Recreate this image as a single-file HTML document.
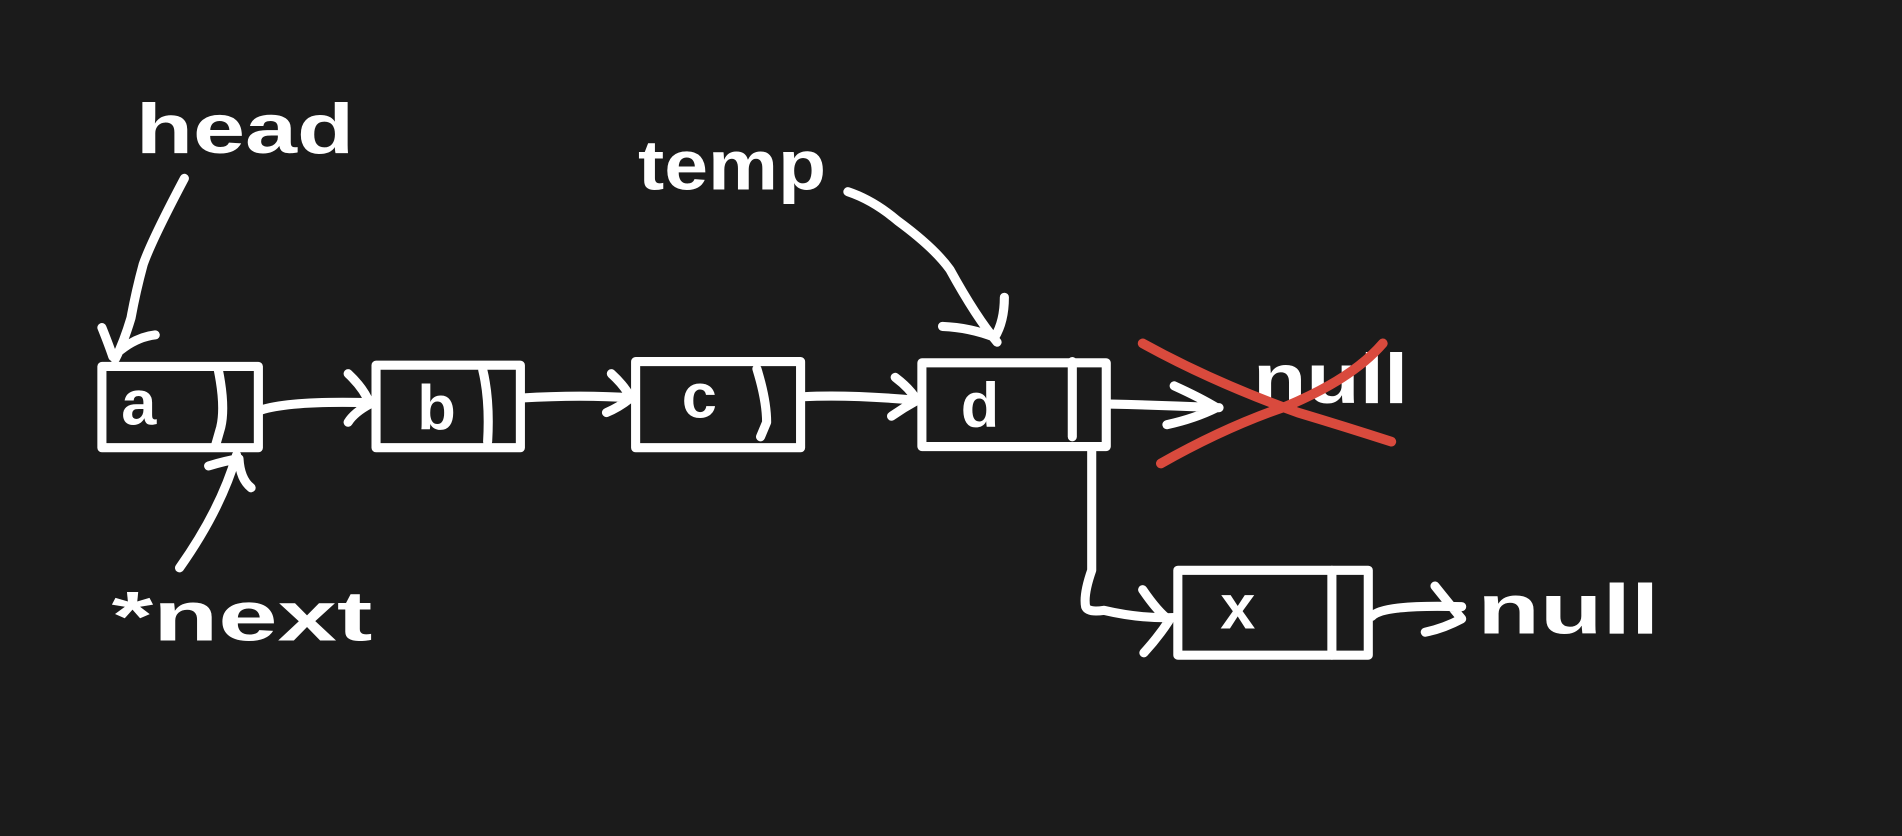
<!DOCTYPE html>
<html><head><meta charset="utf-8"><style>
html,body{margin:0;padding:0;background:#1b1b1b;width:1902px;height:836px;overflow:hidden}
svg{display:block}
text{font-family:"Liberation Sans",sans-serif;font-weight:bold;fill:#fff}
</style></head><body>
<svg width="1902" height="836" viewBox="0 0 1568 689" preserveAspectRatio="none">
<rect width="1568" height="689" fill="#1b1b1b"/>
<g fill="none" stroke="#fff" stroke-width="7.5" stroke-linecap="round" stroke-linejoin="round">
  <g><rect x="84" y="302" width="129" height="67"/><path d="M180 305 Q186 335 182 352 L178 366"/></g>
  <g><rect x="310" y="301" width="119" height="68"/><path d="M398 305 Q404 330 402 364"/></g>
  <g><rect x="524" y="298" width="136" height="71"/><path d="M624 304 Q632 330 632 348 L627 360"/></g>
  <g><rect x="760" y="299" width="152" height="69"/><path d="M884 298 L884 360"/></g>
  <g><rect x="971" y="470" width="157" height="70"/><path d="M1098 470 L1098 540"/></g>
  <path d="M152 147 Q125 198 118 218 Q112 240 108 262 Q102 282 95 296 M84 270 Q90 285 93 294 Q110 278 128 276"/>
  <path d="M148 468 Q182 420 195 375 M172 384 Q185 380 197 378 Q198 395 207 402"/>
  <path d="M699 158 Q720 165 740 182 Q770 204 783 222 Q805 262 822 282 M777 269 Q800 270 820 278 Q828 265 828 245"/>
  <path d="M215 338 Q240 330 308 332 M287 308 Q300 320 305 333 Q292 340 287 348"/>
  <path d="M430 328 Q480 325 522 328 M504 308 Q515 318 520 328 Q510 336 500 340"/>
  <path d="M662 327 Q700 325 757 330 M738 311 Q750 320 756 330 Q745 336 735 343"/>
  <path d="M915 333 Q960 334 1005 336 M968 318 Q990 328 1003 336 Q985 345 962 350"/>
  <path d="M900 368 L900 470 Q893 490 895 500 Q897 505 910 503 Q940 510 968 509 M942 486 Q955 505 964 511 Q955 525 943 538"/>
  <path d="M1131 508 Q1140 498 1205 500 M1183 483 Q1195 498 1205 510 Q1190 518 1175 521"/>
</g>
<g font-size="58">
  <text x="112" y="126" textLength="180" lengthAdjust="spacingAndGlyphs">head</text>
  <text x="526" y="156" textLength="155" lengthAdjust="spacingAndGlyphs">temp</text>
  <text x="92" y="528" textLength="215" lengthAdjust="spacingAndGlyphs">*next</text>
  <text x="1033" y="332" textLength="128" lengthAdjust="spacingAndGlyphs">null</text>
  <text x="1218" y="522" textLength="150" lengthAdjust="spacingAndGlyphs">null</text>
  <text x="100" y="350" font-size="52">a</text>
  <text x="344" y="354" font-size="52">b</text>
  <text x="562" y="344" font-size="52">c</text>
  <text x="792" y="352" font-size="52">d</text>
  <text x="1006" y="518" font-size="52">x</text>
</g>
<path fill="none" stroke="#d94a3d" stroke-width="8" stroke-linecap="round" d="M942 283 Q1000 315 1070 340 Q1110 352 1147 364 M957 382 Q1010 352 1060 335 Q1115 312 1140 283"/>
</svg>
</body></html>
